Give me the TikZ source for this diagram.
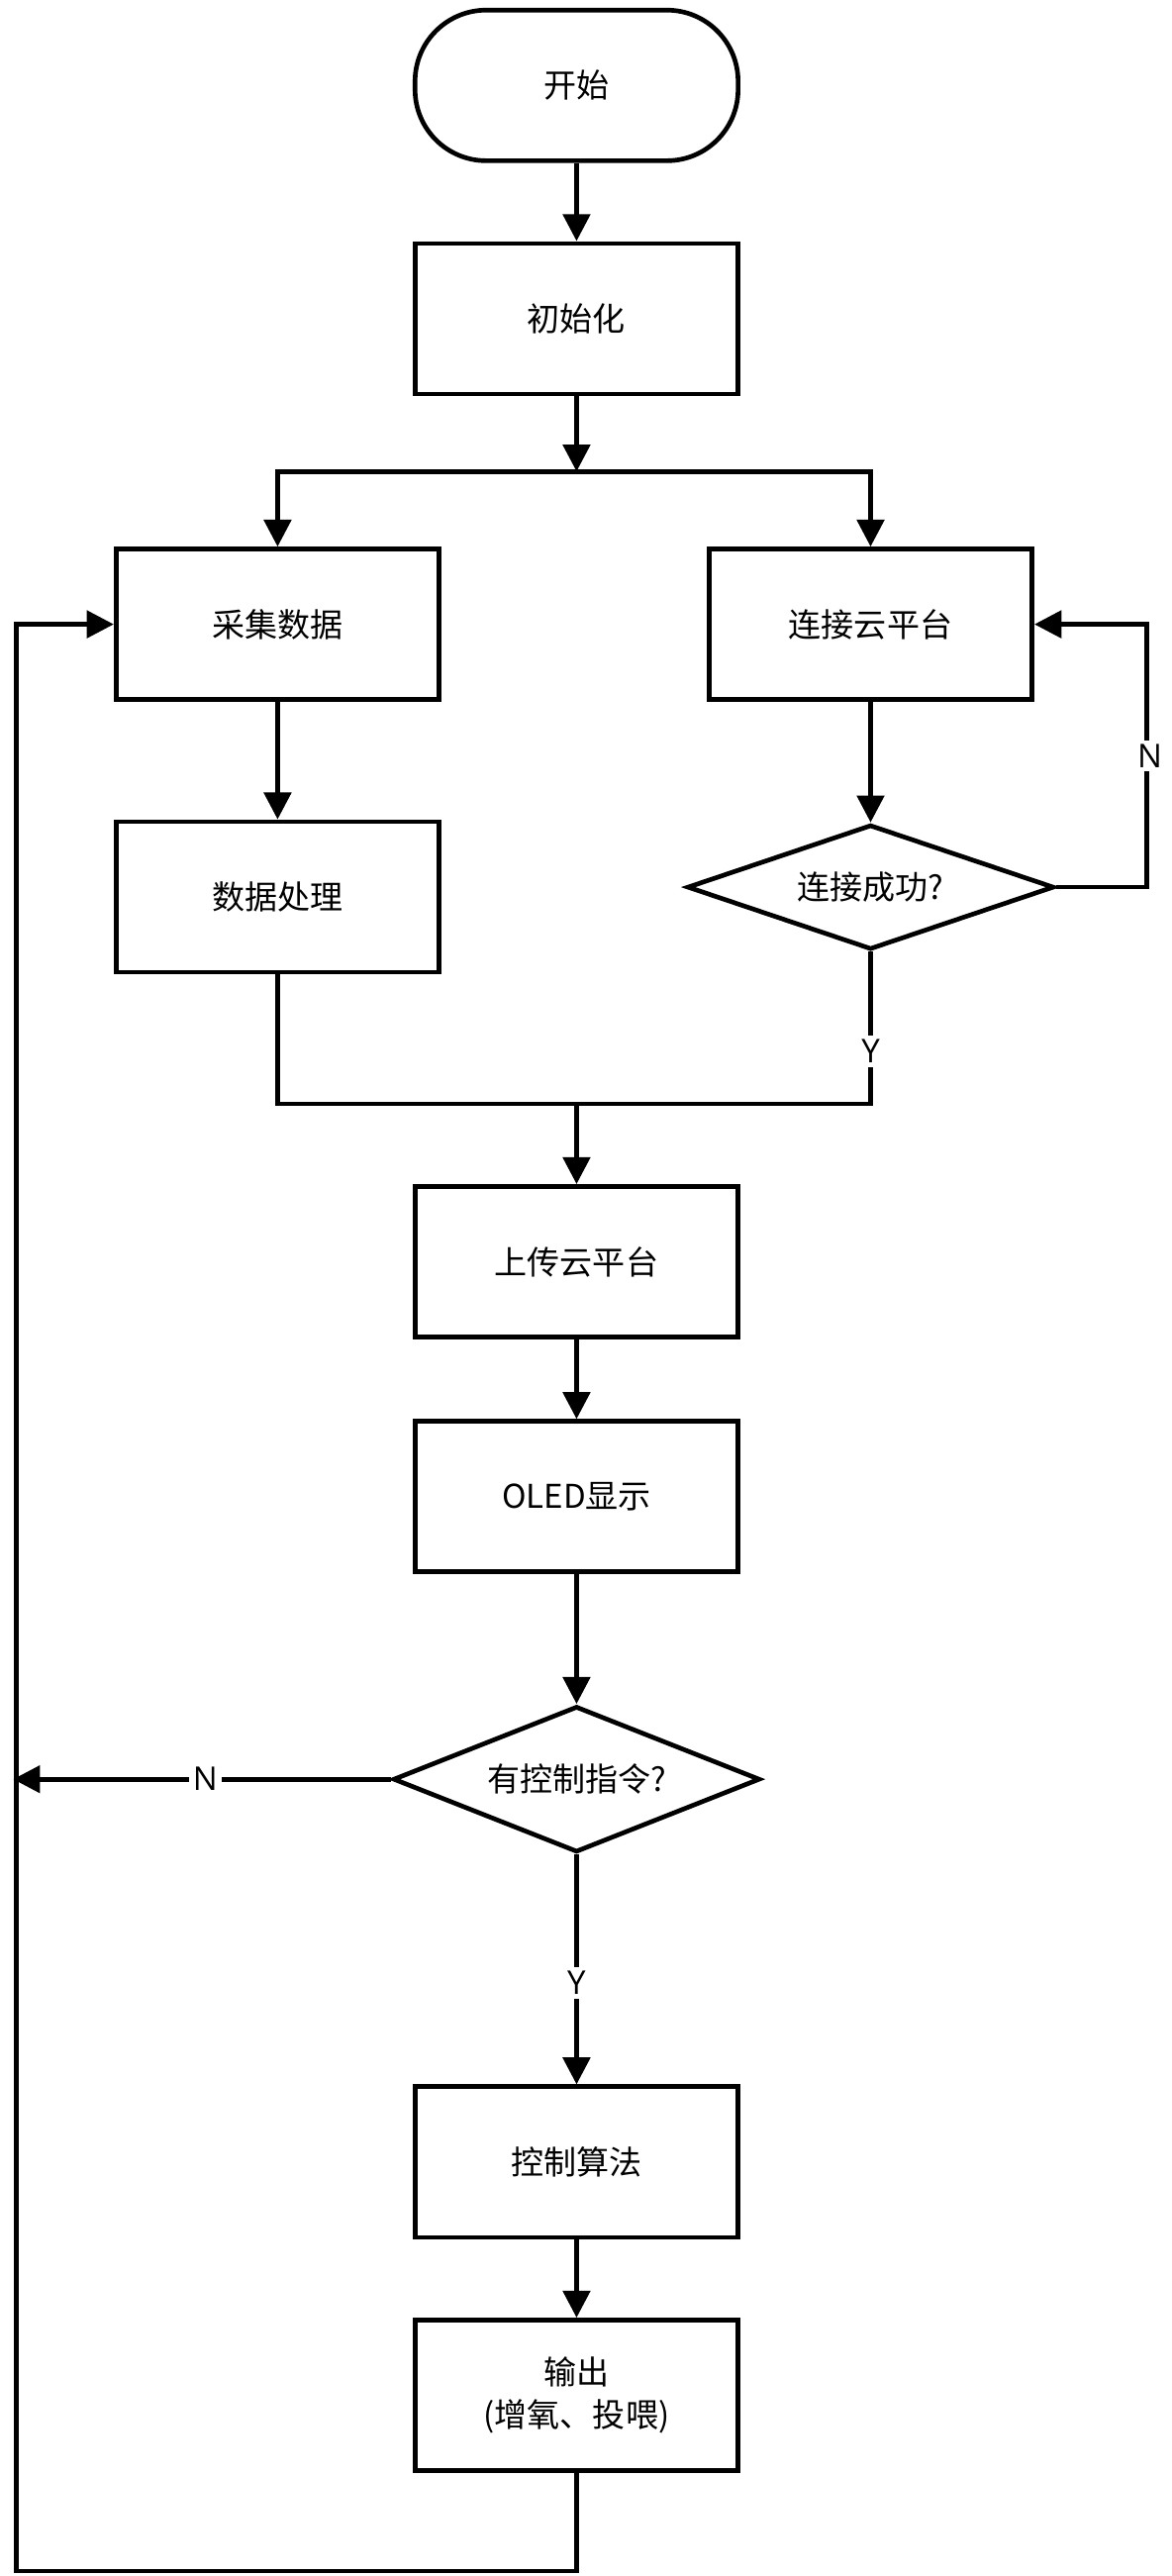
\documentclass[tikz,border=0pt]{standalone}
\usepackage{fontspec}
\setmainfont{Open Sans}
\newfontfamily\cjk{Noto Sans CJK SC}
\usetikzlibrary{shapes.geometric,arrows.meta,positioning}
\tikzset{
  flow/.style={line width=2.4pt},
  arr/.style={flow,-{Triangle[length=14pt,width=14pt]}},
  box/.style={draw,line width=2.4pt,minimum width=5.9cm,minimum height=2.75cm,font=\cjk\fontsize{17}{22}\selectfont,align=center},
  term/.style={box,rounded corners=1.3cm},
  cond/.style={draw,line width=2.4pt,diamond,aspect=1.55,minimum width=6.7cm,inner sep=0pt,font=\cjk\fontsize{17}{22}\selectfont},
  lbl/.style={font=\fontsize{17}{22}\selectfont,fill=white,inner sep=2pt}
}
\begin{document}
\begin{tikzpicture}[x=0.03cm,y=-0.03cm]
    \useasboundingbox (0,0) rectangle (713,1568);
    % nodes
    \node[term] (start) at (351,52) {开始};
    \node[box] (init) at (351,194) {初始化};
    \node[box] (collect) at (169,380) {采集数据};
    \node[box] (connect) at (530,380) {连接云平台};
    \node[box] (process) at (169,546) {数据处理};
    \node[cond,minimum width=6.7cm] (ok) at (530,540) {连接成功?};
    \node[box] (upload) at (351,768) {上传云平台};
    \node[box] (oled) at (351,911) {OLED显示};
    \node[cond] (cmd) at (351,1083) {有控制指令?};
    \node[box] (algo) at (351,1316) {控制算法};
    \node[box] (out) at (351,1458) {输出\\(增氧、投喂)};
    % helper points
    \coordinate (split) at (351,287);
    \coordinate (merge) at (351,672);
    \coordinate (loopR) at (698,540);
    \coordinate (leftN) at (8,1083);
    \coordinate (bot) at (351,1565);
    \coordinate (botL) at (10,1565);
    % connectors
    \draw[arr] (start) -- (init);
    \draw[arr] (init) -- (split);
    \draw[arr] (split) -| (collect);
    \draw[arr] (split) -| (connect);
    \draw[arr] (collect) -- (process);
    \draw[arr] (connect) -- (ok);
    \draw[arr] (ok.east) -- (loopR) |- (connect.east);
    \node[lbl] at (700,460) {N};
    \draw[flow] (process) |- (merge);
    \draw[flow] (ok.south) |- (merge);
    \node[lbl] at (530,640) {Y};
    \draw[arr] (merge) -- (upload);
    \draw[arr] (upload) -- (oled);
    \draw[arr] (oled) -- (cmd);
    \draw[arr] (cmd.west) -- (leftN);
    \node[lbl] at (125,1083) {N};
    \draw[arr] (cmd.south) -- (algo);
    \node[lbl] at (351,1207) {Y};
    \draw[arr] (algo) -- (out);
    \draw[arr] (out) -- (bot) -- (botL) |- (collect.west);
\end{tikzpicture}
\end{document}
